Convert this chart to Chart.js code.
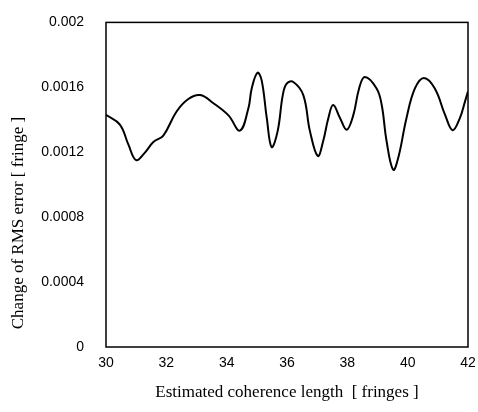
<!DOCTYPE html>
<html>
<head>
<meta charset="utf-8">
<script src="https://cdn.jsdelivr.net/npm/chart.js@4"></script>
<style>
  html, body { margin: 0; padding: 0; background: #fff; }
  #wrap { width: 478px; height: 412px; }
</style>
</head>
<body>
<div id="wrap"><canvas id="myChart"></canvas></div>
<script>
// coherence length (fringes) and change of RMS error (fringe)
const coherenceLength = [30.0, 30.46, 30.74, 31.0, 31.29, 31.57, 31.9, 32.34, 32.73, 33.12, 33.56, 34.06, 34.44, 34.72, 34.83, 35.02, 35.16, 35.33, 35.49, 35.69, 35.86, 35.99, 36.21, 36.54, 36.76, 37.02, 37.2, 37.37, 37.53, 37.76, 37.98, 38.2, 38.39, 38.58, 38.97, 39.14, 39.3, 39.52, 39.69, 39.96, 40.24, 40.54, 40.9, 41.24, 41.49, 41.73, 41.9, 42.0];
const rmsChange = [0.00143, 0.00137, 0.001248, 0.001151, 0.001198, 0.001263, 0.001303, 0.001451, 0.001528, 0.001552, 0.001502, 0.001427, 0.001333, 0.001471, 0.001593, 0.00169, 0.001643, 0.00141, 0.001232, 0.00133, 0.001552, 0.001623, 0.001633, 0.001552, 0.00133, 0.001177, 0.001269, 0.00141, 0.001491, 0.00141, 0.001339, 0.00143, 0.001593, 0.001664, 0.001593, 0.001491, 0.001269, 0.001092, 0.001167, 0.00141, 0.001593, 0.001658, 0.001593, 0.00143, 0.001336, 0.00141, 0.001512, 0.001575];
const yTickLabels = ["0", "0.0004", "0.0008", "0.0012", "0.0016", "0.002"];

const points = coherenceLength.map((x, i) => ({ x: x, y: rmsChange[i] }));

// box round the plot + rotated y title (offset down like the scan)
const frame = {
  id: "frame",
  afterDraw(chart) {
    const a = chart.chartArea;
    const c = chart.ctx;
    c.save();
    c.strokeStyle = "#000";
    c.lineWidth = 1.5;
    c.strokeRect(a.left, a.top, a.right - a.left, a.bottom - a.top);
    c.translate(19, 223);
    c.rotate(-Math.PI / 2);
    c.fillStyle = "#000";
    c.font = "17px 'Liberation Serif'";
    c.textAlign = "center";
    c.textBaseline = "middle";
    c.fillText("Change of RMS error [ fringe ]", 0, 0);
    c.restore();
  },
};

new Chart(document.getElementById("myChart"), {
  type: "line",
  data: {
    datasets: [
      {
        data: points,
        borderColor: "#000",
        borderWidth: 2,
        pointRadius: 0,
        tension: 0.4,
        fill: false,
      },
    ],
  },
  options: {
    responsive: true,
    maintainAspectRatio: false,
    animation: false,
    layout: { padding: { top: 18, right: 10, left: 0, bottom: 0 } },
    plugins: { legend: { display: false }, tooltip: { enabled: false } },
    scales: {
      x: {
        type: "linear",
        min: 30,
        max: 42,
        grid: { display: false },
        border: { display: false },
        ticks: {
          stepSize: 2,
          color: "#000",
          font: { family: "Liberation Sans", size: 14 },
          padding: 0,
        },
        title: {
          display: true,
          text: "Estimated coherence length  [ fringes ]",
          color: "#000",
          font: { family: "Liberation Serif", size: 17 },
          padding: { top: 0, bottom: 9 },
        },
        afterFit(scale) {
          scale.height = 65;
          scale.paddingRight = 0;
          scale.paddingLeft = 0;
        },
      },
      y: {
        min: 0,
        max: 0.002,
        grid: { display: false },
        border: { display: false },
        ticks: {
          stepSize: 0.0004,
          color: "#000",
          font: { family: "Liberation Sans", size: 14 },
          padding: 14,
          callback: (v, i) => yTickLabels[i],
        },
        afterFit(scale) { scale.width = 106; },
      },
    },
  },
  plugins: [frame],
});
</script>
</body>
</html>
